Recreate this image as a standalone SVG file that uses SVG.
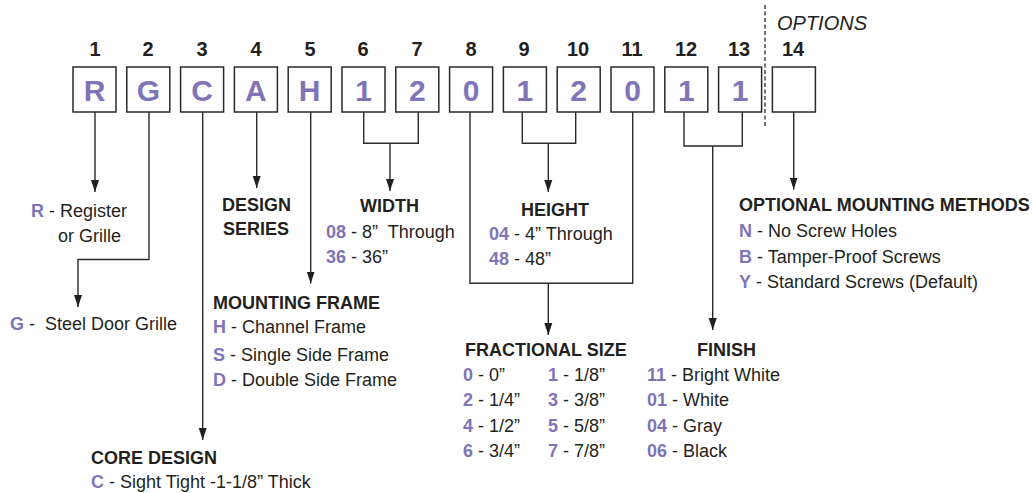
<svg xmlns="http://www.w3.org/2000/svg" width="1034" height="493" viewBox="0 0 1034 493">
<style>
text{font-family:"Liberation Sans",Arial,sans-serif;fill:#231f20}
.num{font-size:20px;font-weight:bold;text-anchor:middle}
.ch{font-size:30px;font-weight:bold;fill:#7f74b8;text-anchor:middle}
.box{fill:#fff;stroke:#2a2a2a;stroke-width:1.5}
.t{font-size:18px}
.h{font-size:18px;font-weight:bold}
.p{fill:#7f74b8;font-weight:bold}
.ln{fill:none;stroke:#2a2a2a;stroke-width:1.4}
.opt{font-size:20px;font-style:italic}
</style>
<defs>
<marker id="ah" markerUnits="userSpaceOnUse" markerWidth="12" markerHeight="16" viewBox="0 0 15 10" refX="15" refY="5" orient="auto">
<path d="M0 0 L15 5 L0 10 Z" fill="#231f20"/>
</marker>
</defs>
<g id="positions">
<text class="num" x="95" y="56">1</text>
<text class="num" x="148" y="56">2</text>
<text class="num" x="202" y="56">3</text>
<text class="num" x="256" y="56">4</text>
<text class="num" x="310" y="56">5</text>
<text class="num" x="363" y="56">6</text>
<text class="num" x="417" y="56">7</text>
<text class="num" x="471" y="56">8</text>
<text class="num" x="524" y="56">9</text>
<text class="num" x="578" y="56">10</text>
<text class="num" x="632" y="56">11</text>
<text class="num" x="686" y="56">12</text>
<text class="num" x="739" y="56">13</text>
<text class="num" x="793" y="56">14</text>
<text class="opt" x="777" y="30">OPTIONS</text>
<line x1="765" y1="5" x2="765" y2="128" stroke="#2a2a2a" stroke-width="1.3" stroke-dasharray="4 2.5"/>
</g>
<g id="box1"><rect class="box" x="73" y="67" width="43" height="45"/><text class="ch" x="94.5" y="101">R</text></g>
<g id="box2"><rect class="box" x="126.8" y="67" width="43" height="45"/><text class="ch" x="148.3" y="101">G</text></g>
<g id="box3"><rect class="box" x="180.6" y="67" width="43" height="45"/><text class="ch" x="202.1" y="101">C</text></g>
<g id="box4"><rect class="box" x="234.4" y="67" width="43" height="45"/><text class="ch" x="255.9" y="101">A</text></g>
<g id="box5"><rect class="box" x="288.2" y="67" width="43" height="45"/><text class="ch" x="309.7" y="101">H</text></g>
<g id="box6"><rect class="box" x="342" y="67" width="43" height="45"/><text class="ch" x="363.5" y="101">1</text></g>
<g id="box7"><rect class="box" x="395.8" y="67" width="43" height="45"/><text class="ch" x="417.3" y="101">2</text></g>
<g id="box8"><rect class="box" x="449.6" y="67" width="43" height="45"/><text class="ch" x="471.1" y="101">0</text></g>
<g id="box9"><rect class="box" x="503.4" y="67" width="43" height="45"/><text class="ch" x="524.9" y="101">1</text></g>
<g id="box10"><rect class="box" x="557.2" y="67" width="43" height="45"/><text class="ch" x="578.7" y="101">2</text></g>
<g id="box11"><rect class="box" x="611" y="67" width="43" height="45"/><text class="ch" x="632.5" y="101">0</text></g>
<g id="box12"><rect class="box" x="664.8" y="67" width="43" height="45"/><text class="ch" x="686.3" y="101">1</text></g>
<g id="box13"><rect class="box" x="718.6" y="67" width="43" height="45"/><text class="ch" x="740.1" y="101">1</text></g>
<g id="box14"><rect class="box" x="772.4" y="67" width="43" height="45"/></g>
<g id="connectors">
<path class="ln" d="M95 112 V192" marker-end="url(#ah)"/>
<path class="ln" d="M149 112 V259.5 H78 V307" marker-end="url(#ah)"/>
<path class="ln" d="M202.7 112 V440" marker-end="url(#ah)"/>
<path class="ln" d="M256.7 112 V188" marker-end="url(#ah)"/>
<path class="ln" d="M310.7 112 V283.5" marker-end="url(#ah)"/>
<path class="ln" d="M363.7 112 V143.3 H418.3 V112"/>
<path class="ln" d="M390 143.3 V191" marker-end="url(#ah)"/>
<path class="ln" d="M470 112 V283.3 H632.7 V112"/>
<path class="ln" d="M548.3 283.3 V335" marker-end="url(#ah)"/>
<path class="ln" d="M522.3 112 V143.3 H575.7 V112"/>
<path class="ln" d="M548.3 143.3 V192" marker-end="url(#ah)"/>
<path class="ln" d="M684 112 V146 H742.3 V112"/>
<path class="ln" d="M712.7 146 V330" marker-end="url(#ah)"/>
<path class="ln" d="M793.7 112 V189.5" marker-end="url(#ah)"/>
</g>
<g id="register">
<text class="t" x="31" y="217"><tspan class="p">R</tspan> - Register</text>
<text class="t" x="58" y="242">or Grille</text>
</g>
<g id="grille">
<text class="t" x="10" y="330" xml:space="preserve"><tspan class="p">G</tspan> -  Steel Door Grille</text>
</g>
<g id="design-series">
<text class="h" x="222" y="211">DESIGN</text>
<text class="h" x="223" y="235">SERIES</text>
</g>
<g id="width">
<text class="h" x="360" y="212">WIDTH</text>
<text class="t" x="326" y="238" xml:space="preserve"><tspan class="p">08</tspan> - 8”  Through</text>
<text class="t" x="326" y="263"><tspan class="p">36</tspan> - 36”</text>
</g>
<g id="height">
<text class="h" x="521" y="216">HEIGHT</text>
<text class="t" x="489" y="240"><tspan class="p">04</tspan> - 4” Through</text>
<text class="t" x="489" y="265"><tspan class="p">48</tspan> - 48”</text>
</g>
<g id="mounting-frame">
<text class="h" x="213" y="309">MOUNTING FRAME</text>
<text class="t" x="213" y="333"><tspan class="p">H</tspan> - Channel Frame</text>
<text class="t" x="213" y="361"><tspan class="p">S</tspan> - Single Side Frame</text>
<text class="t" x="213" y="386"><tspan class="p">D</tspan> - Double Side Frame</text>
</g>
<g id="core-design">
<text class="h" x="91" y="464">CORE DESIGN</text>
<text class="t" x="91" y="488"><tspan class="p">C</tspan> - Sight Tight -1-1/8” Thick</text>
</g>
<g id="optional-mounting">
<text class="h" x="739" y="211">OPTIONAL MOUNTING METHODS</text>
<text class="t" x="739" y="237"><tspan class="p">N</tspan> - No Screw Holes</text>
<text class="t" x="739" y="263"><tspan class="p">B</tspan> - Tamper-Proof Screws</text>
<text class="t" x="739" y="288"><tspan class="p">Y</tspan> - Standard Screws (Default)</text>
</g>
<g id="fractional-size">
<text class="h" x="465" y="356">FRACTIONAL SIZE</text>
<text class="t" x="463" y="381"><tspan class="p">0</tspan> - 0”</text>
<text class="t" x="463" y="406"><tspan class="p">2</tspan> - 1/4”</text>
<text class="t" x="463" y="432"><tspan class="p">4</tspan> - 1/2”</text>
<text class="t" x="463" y="457"><tspan class="p">6</tspan> - 3/4”</text>
<text class="t" x="548" y="381"><tspan class="p">1</tspan> - 1/8”</text>
<text class="t" x="548" y="406"><tspan class="p">3</tspan> - 3/8”</text>
<text class="t" x="548" y="432"><tspan class="p">5</tspan> - 5/8”</text>
<text class="t" x="548" y="457"><tspan class="p">7</tspan> - 7/8”</text>
</g>
<g id="finish">
<text class="h" x="697" y="356">FINISH</text>
<text class="t" x="647" y="381"><tspan class="p">11</tspan> - Bright White</text>
<text class="t" x="647" y="406"><tspan class="p">01</tspan> - White</text>
<text class="t" x="647" y="432"><tspan class="p">04</tspan> - Gray</text>
<text class="t" x="647" y="457"><tspan class="p">06</tspan> - Black</text>
</g>
</svg>
